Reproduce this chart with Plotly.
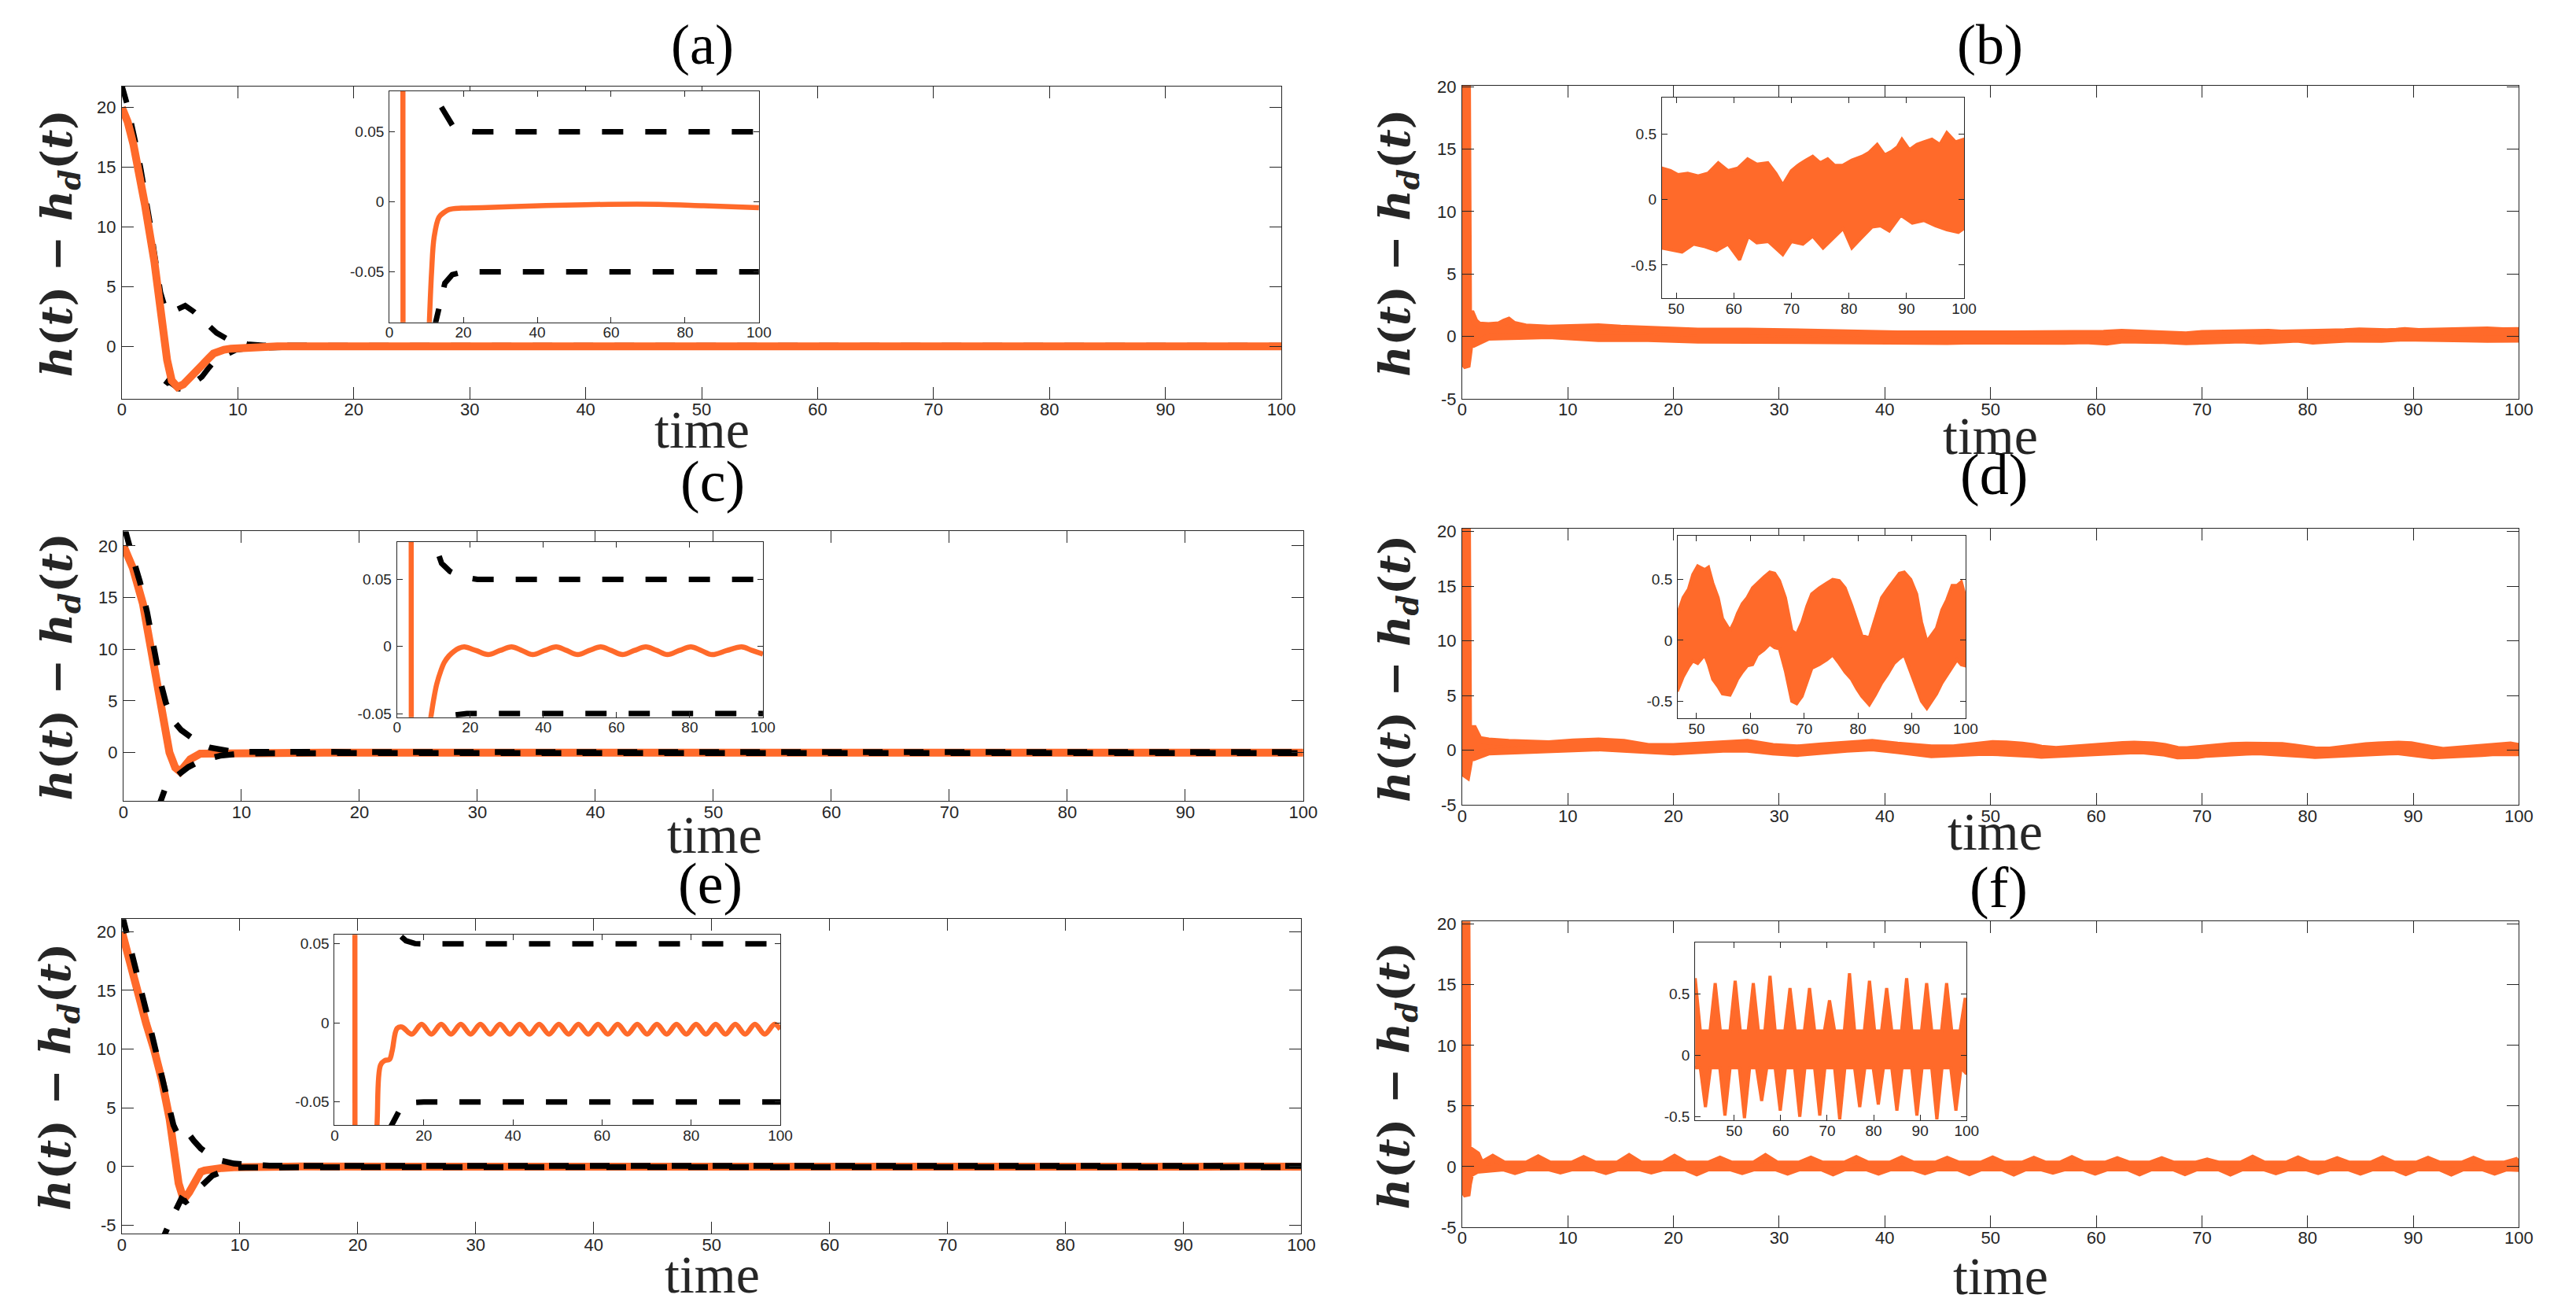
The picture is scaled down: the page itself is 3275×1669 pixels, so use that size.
import math
import plotly.graph_objects as go

W, H = 3275, 1669
ORANGE = '#FF6A2A'
BLACK = '#000000'
AX = '#262626'

# ---------------- data ----------------
# panel (a): tracking error and performance bounds
a_t = [0, 0.5, 1.0, 1.4, 2.0, 2.8, 3.4, 3.65, 3.9, 4.3, 4.8, 5.3, 5.9, 6.5, 7.0, 7.5, 7.9, 8.4, 8.8, 9.4, 10.0, 10.5,
       10.8, 11.4, 12.1, 13.4, 14.8, 16.1, 19.5, 25, 32.5, 45, 59.4, 72.9, 85, 100]
a_e = [20.0, 18.8, 16.9, 15.1, 11.8, 7.1, 2.75, 0.0, -1.15, -2.88, -3.42, -3.2, -2.66, -2.1, -1.58, -1.0, -0.61, -0.4,
       -0.29, -0.2, -0.15, -0.11, -0.086, -0.05, -0.025, -0.011, -0.0075, -0.0055, -0.0045, -0.0042, -0.0035, -0.0025,
       -0.0018, -0.0018, -0.0028, -0.0042]
a_up_t = [0, 0.07, 0.5, 1.0, 1.3, 1.64, 2.0, 2.2, 2.5, 2.77, 3.1, 3.33, 3.7, 4.0, 4.23, 4.8, 5.46, 6.2, 6.9, 7.5, 8.16,
          9.0, 9.85, 10.8, 12.2, 13.5, 14.9, 16.2, 17.5, 19.5, 22.9, 100]
a_up = [22.0, 21.6, 20.1, 18.1, 16.5, 14.8, 13.0, 11.8, 9.9, 8.0, 6.1, 4.5, 3.3, 2.9, 2.7, 3.1, 3.4, 2.9, 2.3, 1.7, 1.12,
        0.65, 0.37, 0.18, 0.082, 0.07, 0.064, 0.057, 0.0525, 0.051, 0.05, 0.05]
a_lo_t = [2.9, 3.22, 3.6, 4.0, 4.4, 4.9, 5.46, 6.2, 6.9, 7.5, 8.05, 8.73, 9.4, 9.85, 10.8, 12.5, 14.0, 15.0, 17.0, 20.0,
          100]
a_lo = [-6.5, -4.4, -3.4, -2.9, -3.2, -3.55, -3.6, -3.1, -2.56, -1.8, -1.15, -0.82, -0.5, -0.3, -0.17, -0.086, -0.071,
        -0.058, -0.052, -0.05, -0.05]

# panel (c)
c_t = [0, 0.8, 1.65, 2.5, 3.12, 3.76, 3.9, 4.39, 4.81, 5.2, 5.66, 6.5, 7.3, 8.2, 9.24, 10.0, 10.87, 12.0, 12.9, 14.2,
       15.6, 17.0, 18.4, 21.6, 24.9, 28.1, 31.3, 34.2, 37.1, 40.3, 43.5, 46.4, 49.4, 52.5, 55.7, 58.6, 61.6, 64.8,
       68.0, 71.0, 73.9, 77.1, 80.3, 83.2, 86.1, 90.1, 94.2, 97.1, 100]
c_e = [20.0, 17.85, 14.4, 9.0, 5.25, 1.23, 0.0, -1.45, -1.85, -1.3, -0.65, -0.11, -0.09, -0.07, -0.053, -0.04, -0.028,
       -0.018, -0.012, -0.007, -0.0035, -0.0012, -0.0003, -0.003, -0.006, -0.003, -0.0003, -0.003, -0.006, -0.003,
       -0.0003, -0.003, -0.006, -0.003, -0.0003, -0.003, -0.006, -0.003, -0.0003, -0.003, -0.006, -0.003, -0.0003,
       -0.003, -0.006, -0.003, -0.0003, -0.003, -0.0057]
c_up_t = [0, 0.2, 0.8, 1.4, 2.0, 2.6, 3.1, 3.6, 4.2, 4.9, 5.7, 6.5, 7.3, 8.2, 9.0, 10.2, 12.2, 14.5, 17.5, 22.0, 100]
c_up = [21.8, 21.3, 18.8, 16.5, 13.6, 10.0, 7.0, 4.8, 3.1, 2.17, 1.45, 0.83, 0.5, 0.28, 0.15, 0.078, 0.062, 0.056,
        0.052, 0.05, 0.05]
c_lo_t = [2.9, 3.12, 3.5, 3.97, 4.4, 4.81, 5.5, 6.2, 6.92, 8.2, 9.0, 9.9, 11.0, 12.5, 14.3, 16.0, 19.1, 100]
c_lo = [-6.0, -4.8, -3.6, -2.79, -2.35, -2.0, -1.4, -1.0, -0.65, -0.3, -0.17, -0.1, -0.075, -0.06, -0.054, -0.051,
        -0.05, -0.05]

# panel (e)
e_t = [0, 0.73, 1.39, 2.05, 2.72, 3.38, 4.04, 4.48, 4.55, 4.81, 5.15, 5.37, 5.7, 6.03, 6.69, 7.0, 7.57, 8.5, 9.5,
       10.3, 11.2, 12.3, 12.9, 14.0, 15.1, 17.3, 19.5, 21.7, 23.9, 26.1, 28.3, 30.5, 32.7, 34.9, 37.1, 39.3, 41.5,
       43.7, 45.9, 48.1, 50.3, 52.5, 54.7, 56.9, 59.1, 61.3, 63.5, 65.7, 67.9, 70.1, 72.3, 74.5, 76.7, 78.9, 81.1,
       83.3, 85.5, 87.7, 89.9, 92.1, 94.3, 96.5, 98.7, 100]
e_e = [20.0, 17.1, 14.4, 12.2, 10.0, 7.4, 4.08, 0.56, 0.0, -1.43, -2.53, -2.64, -2.2, -1.66, -0.45, -0.34, -0.23,
       -0.12, -0.0647, -0.0266, -0.0239, -0.0231, -0.0177, -0.0035, -0.0026, -0.0071, -0.0009, -0.0071, -0.0009,
       -0.0071, -0.0009, -0.0071, -0.0009, -0.0071, -0.0009, -0.0071, -0.0009, -0.0071, -0.0009, -0.0071, -0.0009,
       -0.0071, -0.0009, -0.0071, -0.0009, -0.0071, -0.0009, -0.0071, -0.0009, -0.0071, -0.0009, -0.0071, -0.0009,
       -0.0071, -0.0009, -0.0071, -0.0009, -0.0071, -0.0009, -0.0071, -0.0009, -0.0071, -0.0009, -0.004]
e_up_t = [0, 0.73, 1.39, 2.05, 2.72, 3.38, 3.93, 4.37, 4.7, 5.03, 5.3, 5.59, 6.1, 6.69, 7.5, 8.24, 9.5, 11.0, 12.5,
          14.5, 16.0, 18.0, 20.0, 100]
e_up = [21.5, 18.7, 16.0, 13.3, 10.5, 7.8, 5.3, 3.53, 2.8, 2.43, 2.55, 2.87, 2.2, 1.54, 0.95, 0.55, 0.25, 0.12, 0.075,
        0.0557, 0.052, 0.0502, 0.05, 0.05]
e_lo_t = [3.3, 3.6, 4.0, 4.37, 4.7, 5.03, 5.4, 5.8, 6.47, 7.0, 7.68, 8.6, 9.56, 10.5, 11.8, 12.86, 15.1, 17.0, 20.0,
          100]
e_lo = [-7.5, -5.84, -4.9, -4.08, -3.3, -2.76, -3.0, -2.7, -1.9, -1.35, -0.77, -0.4, -0.11, -0.08, -0.07, -0.0647,
        -0.0523, -0.0505, -0.05, -0.05]

# panel (b): envelope (upper / lower) of the noisy error
b_up_t = [0, 0.5, 0.6, 0.9, 1.2, 1.6, 2.5, 3.5, 4.0, 4.4, 4.9, 6.0, 8.2, 10.0, 12.9, 15.0, 17.6, 20.0, 22.3, 27.0,
          31.7, 36.4, 41.2, 45.9, 47.5, 49.0, 50.3, 52.0, 53.8, 55.5, 57.3, 59.0, 60.7, 62.4, 64.0, 65.9, 67.3, 68.5,
          70.0, 71.1, 72.5, 73.7, 75.0, 76.3, 77.5, 78.9, 80.5, 82.3, 83.5, 84.9, 86.2, 87.5, 88.4, 89.2, 90.5, 91.8,
          93.0, 94.4, 95.8, 97.0, 98.5, 100]
b_up = [20.0, 20.0, 1.8, 1.8, 1.2, 0.9, 0.85, 0.92, 1.15, 1.27, 0.95, 0.75, 0.65, 0.7, 0.76, 0.65, 0.52, 0.5, 0.42,
        0.42, 0.31, 0.22, 0.2, 0.2, 0.24, 0.22, 0.19, 0.2, 0.18, 0.2, 0.28, 0.22, 0.24, 0.31, 0.27, 0.28, 0.2, 0.11,
        0.22, 0.26, 0.3, 0.33, 0.28, 0.31, 0.26, 0.26, 0.3, 0.33, 0.36, 0.42, 0.34, 0.37, 0.4, 0.46, 0.38, 0.42, 0.44,
        0.46, 0.42, 0.51, 0.44, 0.46]
b_lo_t = [0, 0.1, 0.3, 0.45, 0.6, 0.75, 1.1, 2.5, 4.4, 8.2, 12.9, 17.6, 22.3, 27.0, 31.7, 36.4, 41.2, 45.9, 47.5, 49.0,
          51.0, 53.0, 55.0, 57.0, 59.0, 61.0, 62.5, 64.0, 66.0, 68.5, 70.0, 72.0, 73.7, 75.5, 77.0, 79.0, 80.5, 82.0,
          84.0, 85.5, 87.0, 89.0, 91.0, 93.0, 95.0, 97.0, 99.0, 100]
b_lo = [-0.5, -1.2, -2.3, -2.45, -1.5, -0.5, -0.62, -0.06, 0.06, 0.06, -0.17, -0.17, -0.29, -0.4, -0.4, -0.4, -0.4,
        -0.4, -0.37, -0.38, -0.4, -0.34, -0.36, -0.39, -0.34, -0.46, -0.28, -0.33, -0.32, -0.42, -0.32, -0.34, -0.28,
        -0.37, -0.31, -0.22, -0.37, -0.3, -0.21, -0.2, -0.24, -0.12, -0.18, -0.16, -0.2, -0.23, -0.25, -0.22]

# panel (d)
d_up_t = [0, 0.5, 0.6, 1.1, 1.6, 2.5, 4.4, 8.2, 10.5, 12.9, 15.3, 17.6, 20.0, 22.5, 24.7, 27.0, 29.4, 31.7, 34.0, 36.4,
          38.8, 41.2, 44.4, 46.5, 47.5, 48.5, 49.3, 50.2, 51.5, 52.2, 53.0, 54.0, 54.8, 56.2, 57.0, 57.6, 58.5, 59.4,
          60.4, 61.3, 62.5, 63.6, 64.5, 65.4, 66.5, 67.7, 68.6, 69.6, 70.5, 71.4, 72.8, 74.2, 75.3, 76.5, 77.6, 78.8,
          79.8, 80.7, 82.1, 83.2, 84.4, 85.5, 86.7, 87.7, 88.6, 89.8, 90.9, 91.8, 92.8, 93.7, 94.6, 95.6, 96.5, 97.5,
          98.4, 99.2, 100]
d_up = [20.0, 20.2, 1.98, 1.98, 1.0, 0.85, 0.72, 0.6, 0.75, 0.85, 0.72, 0.34, 0.34, 0.5, 0.72, 0.72, 0.34, 0.21, 0.4,
        0.6, 0.72, 0.47, 0.21, 0.22, 0.35, 0.42, 0.54, 0.61, 0.58, 0.6, 0.47, 0.35, 0.18, 0.08, 0.15, 0.22, 0.3, 0.35,
        0.43, 0.47, 0.52, 0.56, 0.55, 0.49, 0.35, 0.08, 0.05, 0.15, 0.28, 0.38, 0.43, 0.47, 0.5, 0.49, 0.43, 0.29,
        0.15, 0.04, 0.02, 0.18, 0.35, 0.42, 0.49, 0.55, 0.56, 0.5, 0.38, 0.15, -0.01, 0.05, 0.1, 0.25, 0.33, 0.45,
        0.45, 0.48, 0.35]
d_lo_t = [0, 0.1, 0.3, 0.45, 0.6, 0.75, 1.1, 2.5, 4.4, 8.2, 10.5, 12.9, 15.3, 17.6, 20.0, 22.5, 24.7, 27.0, 29.4, 31.7,
          34.0, 36.4, 38.8, 41.2, 44.4, 46.5, 47.5, 48.5, 49.3, 50.2, 51.5, 52.2, 53.0, 54.0, 54.8, 56.2, 57.0, 57.6,
          58.5, 59.4, 60.4, 61.3, 62.5, 63.6, 64.5, 65.4, 66.5, 67.7, 68.6, 69.6, 70.5, 71.4, 72.8, 74.2, 75.3, 76.5,
          77.6, 78.8, 79.8, 80.7, 82.1, 83.2, 84.4, 85.5, 86.7, 87.7, 88.6, 89.8, 90.9, 91.8, 92.8, 93.7, 94.6, 95.6,
          96.5, 97.5, 98.4, 99.2, 100]
d_lo = [-0.5, -1.2, -2.2, -2.3, -1.5, -0.6, -0.65, -0.15, -0.02, 0.1, 0.15, 0.23, 0.1, -0.02, -0.15, -0.05, 0.1, 0.1,
        -0.15, -0.28, -0.1, 0.1, 0.23, -0.02, -0.4, -0.41, -0.3, -0.22, -0.17, -0.19, -0.12, -0.2, -0.32, -0.38,
        -0.44, -0.45, -0.38, -0.32, -0.26, -0.21, -0.2, -0.12, -0.08, -0.03, -0.06, -0.07, -0.25, -0.5, -0.52, -0.46,
        -0.35, -0.23, -0.2, -0.16, -0.12, -0.19, -0.26, -0.32, -0.4, -0.46, -0.53, -0.45, -0.35, -0.28, -0.19, -0.15,
        -0.12, -0.25, -0.39, -0.5, -0.56, -0.5, -0.44, -0.35, -0.28, -0.22, -0.16, -0.2, -0.21]

# panel (f): initial transient, then spikes of the fast oscillation
f_spike_up_t = [0, 0.45, 0.55, 1.0, 1.4]
f_spike_up = [20.0, 20.1, 1.5, 1.3, 1.0]
f_spike_lo_t = [0, 0.1, 0.3, 0.45, 0.6, 0.8, 1.0, 1.4]
f_spike_lo = [-0.5, -1.2, -2.2, -2.4, -1.4, -0.6, -0.6, -0.3]
f_peak_t = [2.9, 7.2, 11.5, 15.8, 20.1, 24.4, 28.7, 33.0, 37.3, 41.6, 45.9, 50.2, 54.1, 57.7, 62.0, 66.2, 70.5, 74.8,
            79.1, 82.8, 87.1, 91.4, 95.7, 99.7]
f_peak = [0.75, 0.7, 0.65, 0.8, 0.75, 0.6, 0.8, 0.6, 0.65, 0.63, 0.59, 0.61, 0.59, 0.65, 0.55, 0.55, 0.45, 0.67, 0.61,
          0.55, 0.63, 0.59, 0.59, 0.47]
f_trough_t = [5.0, 9.3, 13.6, 17.9, 22.2, 26.5, 30.8, 35.1, 39.4, 43.8, 48.0, 52.2, 55.9, 59.9, 64.1, 68.4, 72.7, 77.0,
              81.0, 85.0, 89.3, 93.6, 97.7]
f_trough = [-0.4, -0.35, -0.4, -0.35, -0.5, -0.4, -0.45, -0.5, -0.45, -0.42, -0.49, -0.51, -0.37, -0.45, -0.5, -0.49,
            -0.52, -0.42, -0.4, -0.45, -0.49, -0.52, -0.45]
f_core_up = 0.2    # top of the dense core between spikes
f_core_lo = -0.1   # bottom of the dense core between spikes
f_end_t = 100
f_end_up, f_end_lo = 0.3, -0.15

# tick labels
main_x_ticks = [0, 10, 20, 30, 40, 50, 60, 70, 80, 90, 100]
main_y_ticks = [-5, 0, 5, 10, 15, 20]
inset_x_ticks_ace = [0, 20, 40, 60, 80, 100]
inset_y_ticks_ace = [-0.05, 0, 0.05]
inset_y_text_ace = ['-0.05', '0', '0.05']
inset_x_ticks_bdf = [50, 60, 70, 80, 90, 100]
inset_y_ticks_bdf = [-0.5, 0, 0.5]
inset_y_text_bdf = ['-0.5', '0', '0.5']

# ---------------- layout geometry (pixels) ----------------
panels = {  # x0, x1, y0(top), y1(bottom)
    'a': (142, 1627, 92, 495), 'b': (1858.5, 3212, 91.4, 495),
    'c': (144, 1655, 666, 1014), 'd': (1858.5, 3212, 662.5, 1019),
    'e': (142, 1652.6, 1166, 1572), 'f': (1858.5, 3212, 1169, 1563.4),
}
insets = {
    'a': (484.7, 957.9, 98.2, 396.4), 'b': (2114.3, 2501.4, 106.5, 365.2),
    'c': (494.3, 963, 679.6, 905.7), 'd': (2134.7, 2503.3, 671.4, 907.5),
    'e': (414.5, 985.3, 1186.4, 1432), 'f': (2157, 2504.6, 1196.5, 1425.5),
}
main_yr = {'a': [-4.4, 21.78], 'b': [-5, 20.07], 'c': [-4.7, 21.4], 'd': [-5, 20.25], 'e': [-5.73, 21.07],
           'f': [-5, 20.23]}
inset_xr = {'a': [0, 100], 'c': [0, 100], 'e': [0, 100], 'b': [47.5, 100], 'd': [46.5, 100], 'f': [41.6, 100]}
inset_yr = {'a': [-0.086, 0.079], 'c': [-0.0527, 0.078], 'e': [-0.0648, 0.0557], 'b': [-0.752, 0.778],
            'd': [-0.643, 0.86], 'f': [-0.528, 0.92]}

DASH_ON, DASH_OFF = 25, 27
# apparent phase offset between the overlapping upper/lower dashed bounds near zero
dash_offset = {'a': 0, 'c': 10, 'e': 24}

order = ['a', 'b', 'c', 'd', 'e', 'f']
main_id = {k: i + 1 for i, k in enumerate(order)}
inset_id = {k: i + 7 for i, k in enumerate(order)}

fig = go.Figure()


def ax_names(n):
    return ('x' if n == 1 else f'x{n}'), ('y' if n == 1 else f'y{n}')


def add_line(n, t, v, color, width, dash=None, shape='linear'):
    xa, ya = ax_names(n)
    fig.add_trace(go.Scatter(x=t, y=v, xaxis=xa, yaxis=ya, mode='lines',
                             line=dict(color=color, width=width, dash=dash, shape=shape),
                             hoverinfo='skip', showlegend=False))


def add_band(n, tu, vu, tl, vl, width):
    xa, ya = ax_names(n)
    xs = list(tu) + list(reversed(tl))
    ys = list(vu) + list(reversed(vl))
    fig.add_trace(go.Scatter(x=xs, y=ys, xaxis=xa, yaxis=ya, mode='lines', fill='toself',
                             fillcolor=ORANGE, line=dict(color=ORANGE, width=width, shape='linear'),
                             hoverinfo='skip', showlegend=False))


def arc_len(k, t, v, t_ref):
    """pixel path length of a polyline of main panel k up to t_ref (flat after last point)"""
    x0, x1, y0, y1 = panels[k]
    sx = (x1 - x0) / 100.0
    sy = (y1 - y0) / (main_yr[k][1] - main_yr[k][0])
    L = 0.0
    last = None
    for ti, vi in zip(t, v):
        if ti > t_ref:
            break
        if last is not None:
            L += math.hypot((ti - last[0]) * sx, (vi - last[1]) * sy)
        last = (ti, vi)
    L += (t_ref - last[0]) * sx
    return L


def shifted_dash(phi):
    period = DASH_ON + DASH_OFF
    phi = int(round(phi)) % period
    if phi <= DASH_OFF:
        return f'0px,{phi}px,{DASH_ON}px,{DASH_OFF - phi}px'
    return f'{phi - DASH_OFF}px,{DASH_OFF}px,{period - phi}px,0px'


# envelope of panel (f) built from the spike list
SP = 1.1  # half base width of a spike (time units)
f_up_t, f_up = list(f_spike_up_t), list(f_spike_up)
for p, v in zip(f_peak_t, f_peak):
    f_up_t += [p - SP, p, min(p + SP, 100)]
    f_up += [f_core_up, v, f_core_up]
f_up_t.append(f_end_t); f_up.append(f_end_up)
f_lo_t, f_lo = list(f_spike_lo_t), list(f_spike_lo)
for q, v in zip(f_trough_t, f_trough):
    f_lo_t += [q - SP, q, q + SP]
    f_lo += [f_core_lo, v, f_core_lo]
f_lo_t.append(f_end_t); f_lo.append(f_end_lo)

curves = {'a': (a_t, a_e, a_up_t, a_up, a_lo_t, a_lo),
          'c': (c_t, c_e, c_up_t, c_up, c_lo_t, c_lo),
          'e': (e_t, e_e, e_up_t, e_up, e_lo_t, e_lo)}

base_dash = f'{DASH_ON}px,{DASH_OFF}px'
# main panels a, c, e
for k in ['a', 'c', 'e']:
    t, ev, ut, uv, lt, lv = curves[k]
    n = main_id[k]
    t_ref = 25.0
    Lu = arc_len(k, ut, uv, t_ref)
    Ll = arc_len(k, lt, lv, t_ref)
    lo_dash = shifted_dash(Ll - Lu + dash_offset[k])
    if k == 'a':
        add_line(n, ut, uv, BLACK, 7, base_dash)
        add_line(n, lt, lv, BLACK, 7, base_dash)
        add_line(n, t, ev, ORANGE, 10)
    else:
        add_line(n, t, ev, ORANGE, 10)
        add_line(n, ut, uv, BLACK, 7.5, base_dash)
        add_line(n, lt, lv, BLACK, 7.5, lo_dash)

# main panels b, d, f
add_band(main_id['b'], b_up_t, b_up, b_lo_t, b_lo, 9)
add_band(main_id['d'], d_up_t, d_up, d_lo_t, d_lo, 9)
add_band(main_id['f'], f_up_t, f_up, f_lo_t, f_lo, 9)

# insets a, c, e
for k in ['a', 'c', 'e']:
    t, ev, ut, uv, lt, lv = curves[k]
    n = inset_id[k]
    add_line(n, ut, uv, BLACK, 7, '27px,28px')
    add_line(n, lt, lv, BLACK, 7, '27px,28px')
    add_line(n, t, ev, ORANGE, 6.5, shape='spline')

# insets b, d, f
add_band(inset_id['b'], b_up_t, b_up, b_lo_t, b_lo, 4)
add_band(inset_id['d'], d_up_t, d_up, d_lo_t, d_lo, 4)
add_band(inset_id['f'], f_up_t, f_up, f_lo_t, f_lo, 4)


def dom(box):
    x0, x1, y0, y1 = box
    return [x0 / W, x1 / W], [1 - y1 / H, 1 - y0 / H]


layout = dict(width=W, height=H, margin=dict(l=0, r=0, t=0, b=0), paper_bgcolor='white', plot_bgcolor='white',
              showlegend=False)

common = dict(showline=True, linecolor=AX, linewidth=1, mirror='ticks', ticks='inside', tickcolor=AX,
              tickwidth=1, showgrid=False, zeroline=False)

for k in order:
    n = main_id[k]
    xd, yd = dom(panels[k])
    xa = 'xaxis' if n == 1 else f'xaxis{n}'
    ya = 'yaxis' if n == 1 else f'yaxis{n}'
    layout[xa] = dict(common, domain=xd, range=[0, 100], tickvals=main_x_ticks, ticklen=15,
                      anchor=('y' if n == 1 else f'y{n}'),
                      tickfont=dict(family='Liberation Sans', size=22, color=AX), ticklabelstandoff=-6)
    layout[ya] = dict(common, domain=yd, range=main_yr[k], tickvals=main_y_ticks,
                      ticktext=[str(v) for v in main_y_ticks],
                      ticklen=15, anchor=('x' if n == 1 else f'x{n}'),
                      tickfont=dict(family='Liberation Sans', size=22, color=AX), ticklabelstandoff=2)
    m = inset_id[k]
    xd, yd = dom(insets[k])
    if k in ['a', 'c', 'e']:
        xt, yt, ytt = inset_x_ticks_ace, inset_y_ticks_ace, inset_y_text_ace
    else:
        xt, yt, ytt = inset_x_ticks_bdf, inset_y_ticks_bdf, inset_y_text_bdf
    layout[f'xaxis{m}'] = dict(common, domain=xd, range=inset_xr[k], tickvals=xt, ticklen=7, anchor=f'y{m}',
                               tickfont=dict(family='Liberation Sans', size=19, color=AX), ticklabelstandoff=-4)
    layout[f'yaxis{m}'] = dict(common, domain=yd, range=inset_yr[k], tickvals=yt, ticktext=ytt, ticklen=7,
                               anchor=f'x{m}', tickfont=dict(family='Liberation Sans', size=19, color=AX),
                               ticklabelstandoff=2)

ann = []
# top-row titles hang from the top edge; the others are centred
for k, x in (('a', 885), ('b', 2535)):
    ann.append(dict(text=f'({k})', x=x / W, y=1.0, xref='paper', yref='paper', xanchor='center',
                    yanchor='top', yshift=4, showarrow=False,
                    font=dict(family='Liberation Serif', size=72, color='black')))
titles = {'c': (899, 602), 'd': (2540, 593), 'e': (896, 1120), 'f': (2546, 1125)}
for k, (x, y) in titles.items():
    ann.append(dict(text=f'({k})', x=x / W, y=1 - y / H, xref='paper', yref='paper', xanchor='center',
                    yanchor='middle', showarrow=False, font=dict(family='Liberation Serif', size=74, color='black')))
times = {'a': (885, 535), 'b': (2535, 543), 'c': (901, 1057), 'd': (2541, 1053), 'e': (898, 1624),
         'f': (2548, 1626)}
for k, (x, y) in times.items():
    ann.append(dict(text='time', x=x / W, y=1 - y / H, xref='paper', yref='paper', xanchor='center',
                    yanchor='middle', showarrow=False, font=dict(family='Liberation Serif', size=68, color=AX)))
ylab = '<b><i>h</i>(<i>t</i>) − <i>h</i><sub><i>d</i></sub>(<i>t</i>)</b>'
ypos = {'a': (62, 295), 'b': (1776, 294), 'c': (62, 841), 'd': (1776, 843), 'e': (60, 1370), 'f': (1774, 1368)}
for k, (x, y) in ypos.items():
    ann.append(dict(text=ylab, x=x / W, y=1 - y / H, xref='paper', yref='paper', xanchor='center',
                    yanchor='middle', textangle=-90, showarrow=False,
                    font=dict(family='DejaVu Serif', size=54, color=AX)))
layout['annotations'] = ann

fig.update_layout(**layout)
fig.write_html('out.html')
